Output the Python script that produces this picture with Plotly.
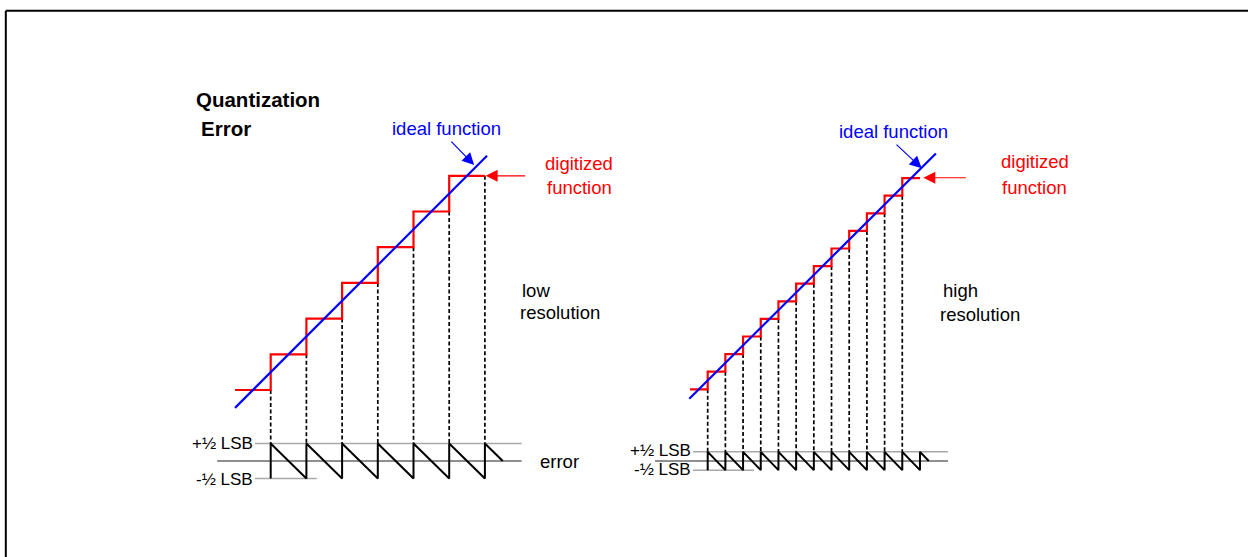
import plotly.graph_objects as go

W, H = 1248, 557

# ---------------- data ----------------
LOW_LEVELS = [0, 1, 2, 3, 4, 5, 6]                       # digitized codes, low resolution
HIGH_LEVELS = [0, 1, 2, 3, 4, 5, 6, 7, 8, 9, 10, 11, 12]  # digitized codes, high resolution
LOW_IDEAL_X = [0.0, 7.06]                                 # extent of the ideal (analog) line
HIGH_IDEAL_X = [-0.04, 13.9]
LOW_DROPS = 7                                             # dashed projections to the error plot
HIGH_DROPS = 12
ERR_LABELS = ["+½ LSB", "-½ LSB"]

RED = "#ff0000"
BLUE = "#0000ff"
FONT = "Liberation Sans, Arial, sans-serif"

# ---------------- helpers ----------------
def staircase(levels):
    xs, ys = [], []
    for i, lv in enumerate(levels):
        xs += [i, i + 1]
        ys += [lv, lv]
    return xs, ys

def ideal(xr):
    return [x - 0.5 for x in xr]

def error_wave(levels, base, scale):
    n = len(levels)
    xs, es = [], []
    for k in range(1, n + 1):
        ideal_k = k - 0.5
        xs += [k, k]
        es += [levels[k - 1] - ideal_k, levels[k - 1] + 1 - ideal_k]
    xs.append(n + 0.5)
    es.append((levels[-1] + 1) - (n + 0.5 - 0.5))
    return xs, [base + scale * e for e in es]

def drops(levels, count, bottom):
    xs, ys = [], []
    for k in range(1, count + 1):
        xs += [k, k, None]
        ys += [levels[k - 1], bottom, None]
    return xs, ys

fig = go.Figure()

panels = [
    dict(levels=LOW_LEVELS, ix=LOW_IDEAL_X, nd=LOW_DROPS, xa="x", ya="y",
         base=-1.99, scale=0.98, top=(0.56, 8.03), mid=(-0.5, 8.03), bot=(0.56, 2.29)),
    dict(levels=HIGH_LEVELS, ix=HIGH_IDEAL_X, nd=HIGH_DROPS, xa="x2", ya="y2",
         base=-4.074, scale=1.04, top=(0.17, 14.58), mid=(-1.98, 14.58), bot=(0.17, 3.62)),
]

for p in panels:
    b, s = p["base"], p["scale"]
    for (x0, x1), e, col in [(p["top"], 0.5, "#a8a8a8"), (p["bot"], -0.5, "#a8a8a8"),
                             (p["mid"], 0.0, "#6a6a6a")]:
        fig.add_trace(go.Scatter(x=[x0, x1], y=[b + s * e] * 2, mode="lines",
                                 line=dict(color=col, width=1.5), xaxis=p["xa"], yaxis=p["ya"],
                                 hoverinfo="skip"))
    dx, dy = drops(p["levels"], p["nd"], b + s * 0.5)
    fig.add_trace(go.Scatter(x=dx, y=dy, mode="lines",
                             line=dict(color="black", width=1.7, dash="4px,2.5px"),
                             xaxis=p["xa"], yaxis=p["ya"], hoverinfo="skip"))
    ex, ey = error_wave(p["levels"], b, s)
    fig.add_trace(go.Scatter(x=ex, y=ey, mode="lines", line=dict(color="black", width=2),
                             xaxis=p["xa"], yaxis=p["ya"], hoverinfo="skip"))
    sx, sy = staircase(p["levels"])
    fig.add_trace(go.Scatter(x=sx, y=sy, mode="lines", line=dict(color=RED, width=2.2),
                             xaxis=p["xa"], yaxis=p["ya"], hoverinfo="skip"))
    fig.add_trace(go.Scatter(x=p["ix"], y=ideal(p["ix"]), mode="lines",
                             line=dict(color=BLUE, width=2.2),
                             xaxis=p["xa"], yaxis=p["ya"], hoverinfo="skip"))

def rng(origin_px, unit_px, total):
    return [-origin_px / unit_px, (total - origin_px) / unit_px]

ax_common = dict(visible=False, fixedrange=True, showgrid=False, zeroline=False)
fig.update_layout(
    width=W, height=H,
    margin=dict(l=0, r=0, t=0, b=0),
    paper_bgcolor="white", plot_bgcolor="white",
    showlegend=False,
    hovermode=False,
    xaxis=dict(domain=[0, 1], range=rng(235, 35.7, W), **ax_common),
    yaxis=dict(domain=[0, 1], range=[(390 - H) / 35.7, 390 / 35.7], **ax_common),
    xaxis2=dict(domain=[0, 1], overlaying="x", range=rng(690, 17.69, W), **ax_common),
    yaxis2=dict(domain=[0, 1], overlaying="y", range=[(389.3 - H) / 17.6, 389.3 / 17.6],
                **ax_common),
)

# frame (top and left edges only; the rest runs off the page)
fig.add_shape(type="line", xref="paper", yref="paper",
              x0=5.8 / W, x1=1.0, y0=1 - 10.8 / H, y1=1 - 10.8 / H,
              line=dict(color="black", width=2))
fig.add_shape(type="line", xref="paper", yref="paper",
              x0=5.8 / W, x1=5.8 / W, y0=1 - 10.8 / H, y1=0.0,
              line=dict(color="black", width=2))

def txt(t, x, y, color="black", size=18.5, xanchor="left", bold=False):
    fig.add_annotation(text=f"<b>{t}</b>" if bold else t, x=x / W, y=1 - y / H,
                       xref="paper", yref="paper", xanchor=xanchor, yanchor="middle",
                       showarrow=False, font=dict(family=FONT, size=size, color=color))

txt("Quantization", 194, 99, size=20.5, bold=True)
txt("Error", 199, 128, size=20.5, bold=True)

txt("ideal function", 390, 128.5, color=BLUE)
txt("digitized", 543, 163.5, color=RED)
txt("function", 545, 187, color=RED)
txt("low", 519.5, 290)
txt("resolution", 517.5, 312)
txt(ERR_LABELS[0], 255, 443, size=17, xanchor="right")
txt(ERR_LABELS[1], 255, 479, size=17, xanchor="right")
txt("error", 537.5, 461.5)

txt("ideal function", 836.5, 131.5, color=BLUE)
txt("digitized", 999, 162, color=RED)
txt("function", 1000, 187, color=RED)
txt("high", 940.5, 290)
txt("resolution", 937.5, 314)
txt(ERR_LABELS[0], 693, 450, size=17, xanchor="right")
txt(ERR_LABELS[1], 693, 469, size=17, xanchor="right")

def arrow(xa, ya, tip, tail, color):
    fig.add_annotation(x=tip[0], y=tip[1], ax=tail[0], ay=tail[1], xref=xa, yref=ya,
                       axref=xa, ayref=ya, text="", showarrow=True, arrowhead=2,
                       arrowsize=2.0, arrowwidth=1.2, arrowcolor=color, standoff=0)

arrow("x", "y", (6.70, 6.30), (6.02, 7.00), BLUE)
arrow("x", "y", (7.02, 6.0), (8.17, 6.0), RED)
arrow("x2", "y2", (13.10, 12.56), (11.59, 13.98), BLUE)
arrow("x2", "y2", (13.19, 12.02), (15.68, 12.02), RED)

fig.write_html("out.html",
               config={"displayModeBar": False, "staticPlot": True},
               post_script="document.body.style.margin='0';document.body.style.overflow='hidden';")
